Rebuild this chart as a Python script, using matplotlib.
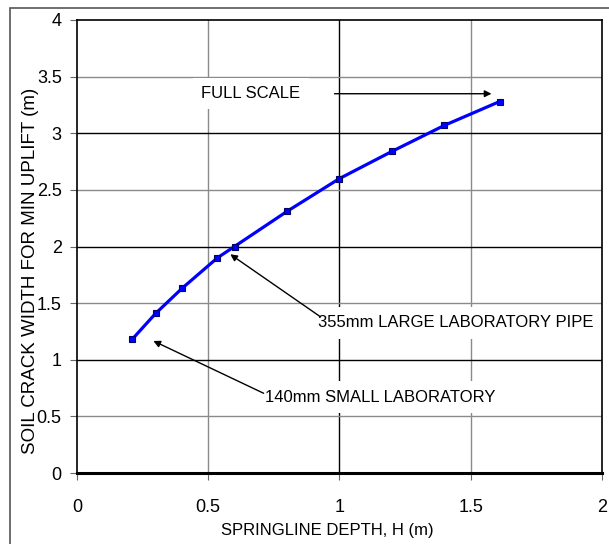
import matplotlib
matplotlib.use('Agg')
import matplotlib.pyplot as plt
from matplotlib.patches import Rectangle

# springline depth H (m) vs soil crack width for min uplift (m)
depth = [0.21, 0.30, 0.40, 0.535, 0.60, 0.80, 1.00, 1.20, 1.40, 1.61]
crack = [1.18, 1.41, 1.63, 1.90, 2.00, 2.31, 2.60, 2.84, 3.07, 3.28]

xticks = [0, 0.5, 1, 1.5, 2]
yticks = [0, 0.5, 1, 1.5, 2, 2.5, 3, 3.5, 4]
xticklabels = ['0', '0.5', '1', '1.5', '2']
yticklabels = ['0', '0.5', '1', '1.5', '2', '2.5', '3', '3.5', '4']

plt.rcParams['font.family'] = ['Liberation Sans', 'DejaVu Sans']

fig = plt.figure(figsize=(6.09, 5.44), dpi=100)
ax = fig.add_axes([77/609, 71/544, 525/609, 453/544])

# outer frame of the chart area (runs off right/bottom edge)
fig.patches.append(Rectangle((10/609, -0.1), 1.2, (536/544) + 0.1,
                             transform=fig.transFigure, fill=False,
                             edgecolor='#555555', lw=1.2))

ax.set_xlim(0, 2)
ax.set_ylim(0, 4)

# gridlines: whole numbers black, halves grey
for v in xticks[1:-1]:
    ax.axvline(v, color='black' if v == int(v) else '#8a8a8a', lw=1, zorder=1)
for v in yticks[1:-1]:
    ax.axhline(v, color='black' if v == int(v) else '#8a8a8a', lw=1, zorder=1)

for s in ['left', 'top', 'right']:
    ax.spines[s].set_linewidth(1.2)
    ax.spines[s].set_color('black')
ax.spines['bottom'].set_linewidth(2.2)

ax.set_xticks(xticks)
ax.set_xticklabels(xticklabels)
ax.set_yticks(yticks)
ax.set_yticklabels(yticklabels)
ax.tick_params(axis='x', length=5, color='#666666', pad=14, labelsize=13)
ax.tick_params(axis='y', length=5, color='#666666', pad=6, labelsize=13)

ax.plot(depth, crack, color='#0000ff', lw=2.3, marker='s', markersize=4.5,
        markerfacecolor='#0000ff', markeredgecolor='#000066',
        markeredgewidth=0.8, zorder=5)

box = dict(boxstyle='square,pad=0.5', facecolor='white', edgecolor='none')
arrow = dict(arrowstyle='-|>', color='black', lw=1, mutation_scale=10,
             shrinkA=0, shrinkB=0)

ax.text(0.473, 3.352, 'FULL SCALE', fontsize=12, ha='left', va='center',
        bbox=box, zorder=2)
ax.annotate('', xy=(1.579, 3.349), xytext=(0.981, 3.349), arrowprops=arrow,
            zorder=4)

ax.text(0.920, 1.325, '355mm LARGE LABORATORY PIPE', fontsize=12,
        ha='left', va='center', bbox=box, zorder=2)
ax.annotate('', xy=(0.584, 1.931), xytext=(0.927, 1.380), arrowprops=arrow,
            zorder=4)

ax.text(0.718, 0.671, '140mm SMALL LABORATORY', fontsize=12,
        ha='left', va='center', bbox=box, zorder=2)
ax.annotate('', xy=(0.291, 1.166), xytext=(0.711, 0.704), arrowprops=arrow,
            zorder=4)

ax.set_xlabel('SPRINGLINE DEPTH, H (m)', fontsize=12, va='center')
ax.xaxis.set_label_coords(0.476, -0.126)
ax.set_ylabel('SOIL CRACK WIDTH FOR MIN UPLIFT (m)', fontsize=13.5,
              va='center')
ax.yaxis.set_label_coords(-0.0895, 0.446)

fig.savefig('out.png', dpi=100)
